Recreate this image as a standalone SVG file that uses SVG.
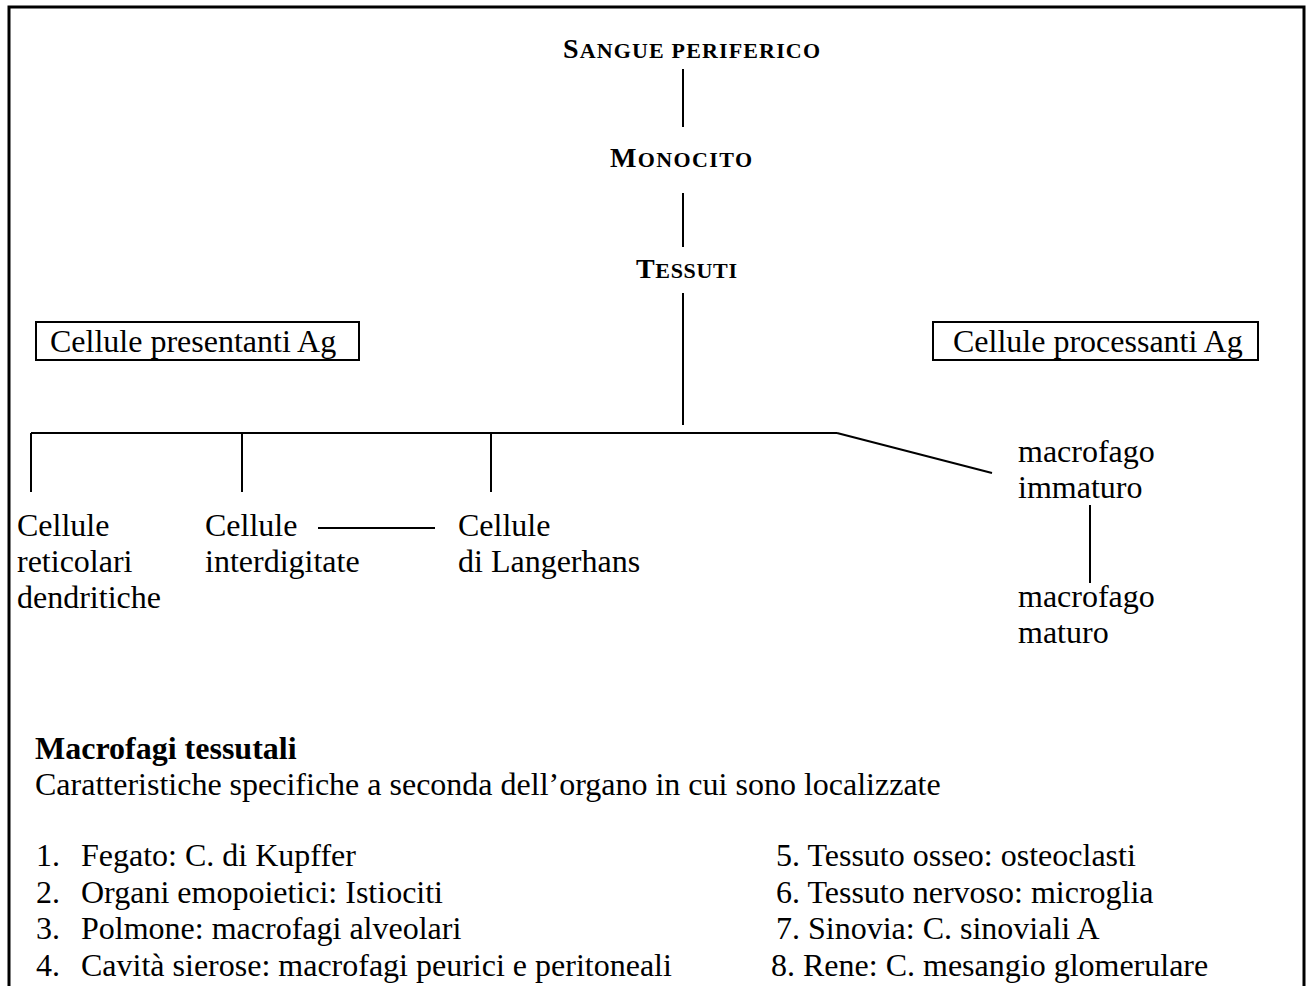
<svg xmlns="http://www.w3.org/2000/svg" width="1306" height="986" viewBox="0 0 1306 986">
<style>
text{font-family:"Liberation Serif","Times New Roman",serif;fill:#000;font-size:32px}
.b{font-weight:bold}
.sc{font-weight:bold;font-size:28px}
.sm{font-size:22px}
.ln{stroke:#000;stroke-width:2;fill:none}
.box{stroke:#000;stroke-width:2;fill:#fff}
</style>
<rect width="1306" height="986" fill="#fff"/>
<path d="M9 990 V7 H1304 V990" stroke="#000" stroke-width="3" fill="none"/>
<g id="connectors" class="ln">
<line x1="683" y1="69" x2="683" y2="127"/>
<line x1="683" y1="193" x2="683" y2="247"/>
<line x1="683" y1="293" x2="683" y2="425"/>
<line x1="31" y1="433" x2="837" y2="433"/>
<line x1="31" y1="433" x2="31" y2="492"/>
<line x1="242" y1="433" x2="242" y2="492"/>
<line x1="491" y1="433" x2="491" y2="492"/>
<line x1="837" y1="433" x2="992" y2="473"/>
<line x1="318" y1="528" x2="435" y2="528"/>
<line x1="1090" y1="505" x2="1090" y2="583"/>
</g>
<g id="sangue"><text class="sc" x="563" y="58" textLength="257" lengthAdjust="spacing">S<tspan class="sm">ANGUE PERIFERICO</tspan></text></g>
<g id="monocito"><text class="sc" x="610" y="167" textLength="142" lengthAdjust="spacing">M<tspan class="sm">ONOCITO</tspan></text></g>
<g id="tessuti"><text class="sc" x="636" y="278" textLength="101" lengthAdjust="spacing">T<tspan class="sm">ESSUTI</tspan></text></g>
<g id="presentanti"><rect class="box" x="36" y="322" width="323" height="38"/><text x="50" y="352">Cellule presentanti Ag</text></g>
<g id="processanti"><rect class="box" x="933" y="322" width="325" height="38"/><text x="953" y="352">Cellule processanti Ag</text></g>
<g id="reticolari"><text x="17" y="536">Cellule</text><text x="17" y="572">reticolari</text><text x="17" y="608">dendritiche</text></g>
<g id="interdigitate"><text x="205" y="536">Cellule</text><text x="205" y="572">interdigitate</text></g>
<g id="langerhans"><text x="458" y="536">Cellule</text><text x="458" y="572">di Langerhans</text></g>
<g id="immaturo"><text x="1018" y="462">macrofago</text><text x="1018" y="498">immaturo</text></g>
<g id="maturo"><text x="1018" y="607">macrofago</text><text x="1018" y="643">maturo</text></g>
<g id="legend">
<text class="b" x="35" y="759">Macrofagi tessutali</text>
<text x="35" y="795">Caratteristiche specifiche a seconda dell’organo in cui sono localizzate</text>
<text x="36" y="866">1.</text><text x="81" y="866">Fegato: C. di Kupffer</text>
<text x="36" y="903">2.</text><text x="81" y="903">Organi emopoietici: Istiociti</text>
<text x="36" y="939">3.</text><text x="81" y="939">Polmone: macrofagi alveolari</text>
<text x="36" y="976">4.</text><text x="81" y="976">Cavità sierose: macrofagi peurici e peritoneali</text>
<text x="776" y="866">5. Tessuto osseo: osteoclasti</text>
<text x="776" y="903">6. Tessuto nervoso: microglia</text>
<text x="776" y="939">7. Sinovia: C. sinoviali A</text>
<text x="771" y="976">8. Rene: C. mesangio glomerulare</text>
</g>
</svg>
